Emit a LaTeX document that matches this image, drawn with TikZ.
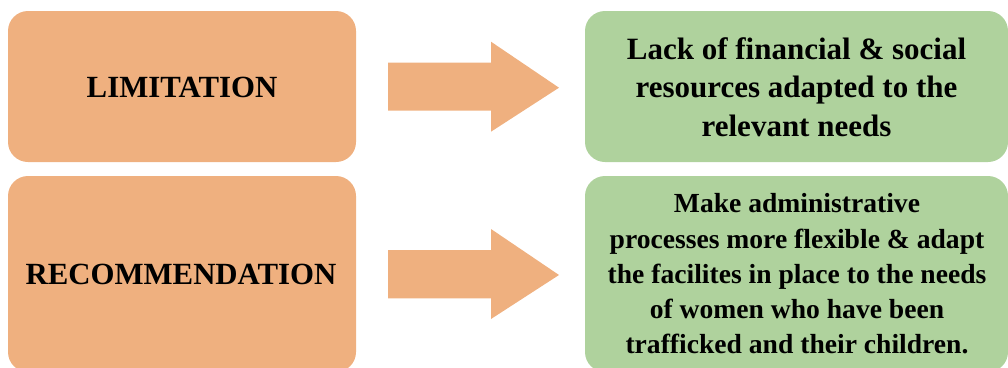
\documentclass[tikz,border=0pt]{standalone}
\usepackage{fontspec}
\setmainfont{Liberation Serif}
\definecolor{orangefill}{RGB}{239,176,127}
\definecolor{greenfill}{RGB}{175,210,157}
\begin{document}
\begin{tikzpicture}[x=0.75pt,y=-0.75pt,
  obox/.style={fill=orangefill, draw=none, rounded corners=15pt, minimum width=261pt},
  otext/.style={font=\fontsize{23.1pt}{28pt}\selectfont\bfseries, inner sep=0pt},
  gbox/.style={fill=greenfill, draw=none, rounded corners=15pt, minimum width=317.25pt},
  gtextA/.style={font=\fontsize{23.25pt}{28.8pt}\selectfont\bfseries, align=center, inner sep=0pt},
  gtextB/.style={font=\fontsize{20.7pt}{26.4pt}\selectfont\bfseries, align=center, inner sep=0pt},
  barrow/.style={fill=orangefill, draw=none}]
\useasboundingbox (0,0) rectangle (1008,368);
\clip (0,0) rectangle (1008,368);
\node[obox, minimum height=113.25pt] (lim) at (182,86.5) {};
\node[obox, minimum height=147pt] (rec) at (182,274) {};
\node[gbox, minimum height=113.25pt] (g1) at (796.5,86.5) {};
\node[gbox, minimum height=147pt] (g2) at (796.5,274) {};
\node[otext] (limt) at (182,87.5) {LIMITATION};
\node[otext] (rect) at (181,274) {RECOMMENDATION};
\node[gtextA] (t1) at (796.5,87)
  {Lack of financial \& social\\resources adapted to the\\relevant needs};
\node[gtextB] (t2) at (797,274)
  {Make administrative\\processes more flexible \& adapt\\the facilites in place to the needs\\of women who have been\\trafficked and their children.};
\fill[barrow] (388,62.7) -- (491,62.7) -- (491,41.7) -- (559,87.7) -- (491,131.7) -- (491,110.7) -- (388,110.7) -- cycle;
\fill[barrow] (388,250) -- (491,250) -- (491,229) -- (559,275) -- (491,319) -- (491,298.3) -- (388,298.3) -- cycle;
\end{tikzpicture}
\end{document}
